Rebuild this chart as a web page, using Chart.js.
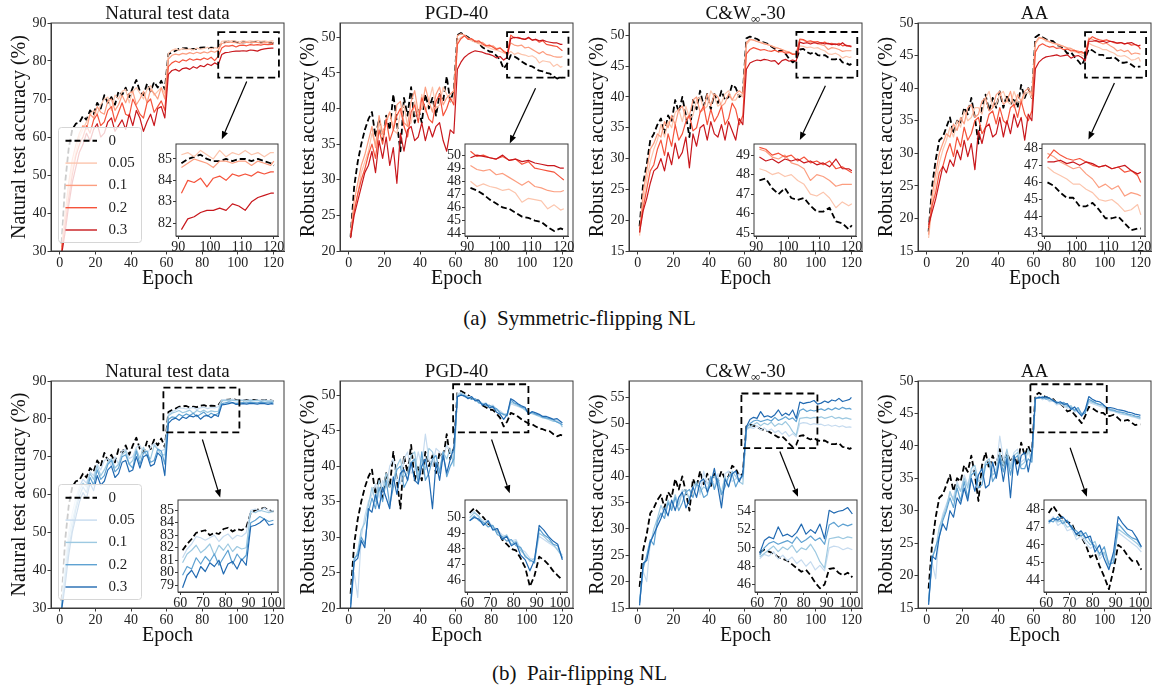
<!DOCTYPE html>
<html>
<head>
<meta charset="utf-8">
<title>Accuracy vs epoch under label noise</title>
<script src="https://cdn.jsdelivr.net/npm/chart.js@4.4.1/dist/chart.umd.min.js"></script>
<style>
  html, body { margin: 0; padding: 0; background: #fff; }
  #fig { position: relative; width: 1159px; height: 692px; overflow: hidden; background: #fff; }
  #fig canvas { position: absolute; }
  .caption { position: absolute; left: 0; width: 1159px; text-align: center;
             font-family: "Liberation Serif", "Times New Roman", serif; font-size: 21px; line-height: 21px; color: #111; }
</style>
</head>
<body>
<div id="fig">
  <div class="caption" style="top:308px">(a)&nbsp; Symmetric-flipping NL</div>
  <div class="caption" style="top:663px">(b)&nbsp; Pair-flipping NL</div>
</div>
<script>
// ---- data ----------------------------------------------------------------
const epochs = [1,3,5,7,9,11,13,15,17,19, 21,23,25,27,29,31,33,35,37,39, 41,43,45,47,49,51,53,55,57,59,
  61,63,65,67,69,71,73,75,77,79,81,83,85,87,89, 91,93,95,97,99,101,103,105,107,109,111,113,115,117,119,120];
const noiseRates = ['0', '0.05', '0.1', '0.2', '0.3'];

// noise rate 0 (same run in both rows)
const natClean = [32,48,57,62,63.5,63.8,65.5,64.5,67,66, 69,67.5,71,69,70.5,68.5,72,71,73,70.5, 73,75,72,71,74,72,74.5,73,74.8,72.5,
  81.8,82.3,82.7,83.2,83.3,83.4,83.0,83.2,83.1,83.5,83.6,83.3,83.5,83.4,83.6,
  84.8,85.0,85.1,85.2,85.0,84.9,84.9,85.0,84.9,85.0,85.0,84.9,85.0,84.9,84.8,84.7];
const pgdClean = [22,29,32.5,35,37,38.5,39.5,36,38.5,35.5, 39,37,42,38,34,41.5,39,43,38,40, 38,42,40,41.5,39,42,41,44.5,41,42.5,
  50.3,50.6,50.3,50.0,49.6,49.4,49.2,48.6,48.3,48.0,47.9,47.4,46.8,45.6,46.3,
  47.5,47.3,47.0,46.6,46.3,46.0,45.9,45.6,45.3,45.2,45.0,44.9,44.5,44.2,44.4,44.3];
const cwClean = [19,26,29,33,34,35.5,36.5,34,37,36, 39.5,37.5,40,37,33.5,39.5,38,41,38.5,40.5, 38,40.5,39,41,39.5,40,42,41.5,40,40.5,
  49.5,49.8,49.6,49.4,49.0,48.8,48.6,48.2,47.8,47.4,47.6,47.0,46.2,45.6,46.0,
  47.7,47.8,47.3,47.0,47.3,46.8,46.7,46.8,46.4,46.1,46.1,46.3,45.6,45.5,45.2,45.4];
const aaClean = [18,25,29,32,32.5,34,35.5,33,35,34.5, 37,36,38.5,35.5,31.5,37,39,36.5,38.5,37, 39.5,37,39,37.5,38.5,37,40.5,38.5,40,38.5,
  47.8,48.2,47.8,47.5,47.3,47.2,46.6,46.5,46.0,45.3,45.5,44.8,44.2,43.5,44.6,
  46.0,45.8,45.4,45.1,45.1,44.6,44.6,44.8,44.4,43.9,43.9,44.0,43.6,43.2,43.3,43.3];

// symmetric-flipping noise
const natSym05 = [30.5,38,46,52,56,60,62,64,66,67, 66,68.5,70,70.5,67,71,70,72,72.5,69, 72,73,71.5,70,72.5,73.5,71,72,73,71.5,
  82,82.8,83.2,82.8,83.3,83,83.2,82.9,83.4,83.1,83.3,83.6,83.2,83.5,83.3,
  85.2,85.3,85.1,85.4,85.2,85.0,85.4,85.1,85.3,85.2,85.4,85.2,85.3,85.1,85.3,85.3];
const natSym10 = [31,40,48,54,58,61,63,62,66,65, 68,66.5,66,69.5,70,67,68.5,71,69,71.5, 72,68.5,70,72,69,72.5,71.5,70,73,70,
  80.5,81.5,81.8,81.6,82,81.8,82.2,81.9,82.3,82,82.4,82.1,82.6,82.3,82.8,
  84.6,84.8,85.0,84.9,84.8,84.6,84.9,84.9,84.8,84.9,84.9,84.7,84.9,84.8,84.7,84.9];
const natSym20 = [30,37,44,50,55,58,60,63,61,64.5, 66,63,64,67,68,64,66.5,69,66,65.5, 70,68,66,65,69,70,66.5,68,69.5,67,
  78.5,79.5,80,79.6,80.3,80,80.6,80.2,80.5,80.3,80.8,80.4,81,80.1,81.2,
  83.4,84.0,83.9,84.1,83.7,84.1,84.2,84.0,84.3,84.2,84.3,84.2,84.4,84.3,84.4,84.4];
const natSym30 = [29,35,42,48,52,56,58,61,59,62, 63.5,60,61,64,65,61.5,63,64.5,62,66, 63,67,65,61.5,64,66,63,67.5,68,65,
  76.5,77.5,77.8,77.3,78,78.2,77.8,78.5,78.1,78.8,78.5,79.2,78.8,79.5,79.0,
  81.7,82.2,82.3,82.5,82.6,82.6,82.7,82.6,82.9,82.8,82.6,83.0,83.2,83.3,83.4,83.4];

const pgdSym05 = [22,26,28,31,32.5,34,36.5,35,38,36, 38.5,39.5,37,36.5,39.5,40.5,37.5,38,41,39, 42,39.5,41,43,40,40.5,43,42,41,41.5,
  49.5,50,50.2,49.8,49.5,49.3,49.1,48.9,48.7,48.5,48.3,48.2,48,47.8,47.6,
  48.0,47.6,47.8,47.6,47.5,47.3,47.4,47.1,46.4,46.7,46.6,46.5,45.9,46.2,45.8,45.9];
const pgdSym10 = [22.5,27,29.5,32,33.5,35.5,37.5,34.5,39,36.5, 38,39.5,37,40.5,41,38,37.5,41,42.5,39.5, 40,43,41,39.5,42,43,40.5,41.5,42,42.5,
  50.2,50.5,50.3,49.9,49.7,49.5,49.2,49.3,48.9,48.7,48.8,48.4,48.5,48.1,47.8,
  49.2,48.9,48.8,48.9,48.5,48.6,48.3,48.0,47.7,48.0,47.6,47.5,47.3,47.2,47.2,47.3];
const pgdSym20 = [22,25.5,28,30,31.5,33.5,35,33,37,35, 38.5,35.5,37,39,40,37.5,36,39.5,40.5,38, 41.5,40,38.5,38,41,42,39,40,41.5,40.5,
  49,49.8,50.2,49.7,49.8,49.4,49.5,49.1,48.8,48.9,48.6,48.3,48.5,48.0,47.7,
  50.3,49.9,50.0,49.8,49.7,49.9,49.6,49.7,49.3,49.5,49.0,48.9,48.8,48.7,48.3,48.1];
const pgdSym30 = [21.8,25,27,29,31,32,34,31,35.5,33, 36,32,34.5,29.5,36.5,34,37,37.5,35.5,36, 38,35.5,37.5,36,37.5,38,35.5,34,37,36.5,
  45.5,46.5,47.2,47.6,47.9,48.1,48.0,47.9,47.7,47.6,47.4,47.1,47.3,46.8,47.2,
  49.8,50.0,49.9,49.8,49.7,50.0,49.6,49.7,49.5,49.6,49.4,49.3,49.2,49.2,49.0,49.0];

const cwSym05 = [17.5,23,26.5,29.5,31.5,33,35.5,33.5,36,35, 37.5,38,36,38.5,36.5,37,39.5,40,38,38.5, 41,40,38.5,39,40.5,41,39.5,39.5,40.5,40,
  48.5,49.2,49.3,49.0,48.9,48.7,48.5,48.3,48.1,47.9,47.7,47.5,47.3,47.0,46.8,
  48.3,48.2,48.0,48.1,47.9,48.0,47.7,47.5,47.0,46.9,47.1,46.8,46.3,46.6,46.4,46.5];
const cwSym10 = [18,24.5,28,31.5,32.5,34,33.5,36,35,37, 35.5,38,38.5,36.5,37,39.5,40,37.5,38,40.5, 38.5,40.5,40,38.5,39,40.5,39.5,40.5,41,40.5,
  48.8,49.4,49.2,49.0,48.8,48.6,48.5,48.3,48.0,47.9,47.7,47.4,47.3,47.0,46.9,
  49.3,49.2,48.9,48.8,49.0,48.6,48.5,48.3,47.7,48.0,47.9,47.7,47.4,47.5,47.5,47.5];
const cwSym20 = [18.5,22,25,28,29,31.5,33,30.5,34,32, 35.5,33,34,36,37,34.5,35,37.5,38.5,35.5, 38,36,37,38.5,35.5,36.5,39,38,35.5,37,
  47,47.7,48.0,47.8,47.6,47.7,47.5,47.4,47.6,47.3,47.4,47.1,47.2,46.9,47.0,
  49.4,49.3,49.0,49.1,48.9,49.0,48.7,48.9,48.6,48.7,48.5,48.7,48.3,48.4,48.2,48.1];
const cwSym30 = [18,21.5,23.5,26,28,28.5,30,28,31,29, 32.5,30,31,33.5,28.5,34,32,35,35.5,33, 36,34,33.5,35.5,33,36,34.5,33,36.5,35.5,
  44.5,45.5,45.8,46.0,45.9,46.1,46.0,45.8,45.9,45.3,45.9,46.1,45.8,46.0,45.8,
  48.9,48.7,48.8,48.6,48.8,48.7,48.8,48.6,48.7,48.5,48.6,48.4,48.8,48.3,48.3,48.2];

const aaSym05 = [17,22,25.5,28.5,30.5,32,34,32.5,35,34, 36.5,35,35.5,37,37,36,38.5,39.5,37,37.5, 39,39.5,38,37.5,39.5,38,37.5,39,39.5,38.5,
  46.8,47.6,47.7,47.2,47.1,46.9,46.7,46.5,46.4,46.1,45.9,45.6,45.4,45.1,44.8,
  46.9,46.6,46.4,46.2,45.9,45.9,45.6,45.4,45.0,44.9,45.0,44.7,44.3,44.4,44.7,44.1];
const aaSym10 = [17.5,23.5,27,30,31.5,33,32.5,34.5,33.5,35.5, 34.5,37,37.5,35.5,36,38,38.5,36.5,37,39, 39.5,37.5,38,39.5,37,39,38,39.5,40,39,
  47.0,47.8,47.6,47.4,47.1,46.9,46.8,46.6,46.4,46.2,46.1,45.8,45.7,45.4,45.2,
  47.7,47.5,47.2,47.0,46.8,46.9,46.5,46.2,45.7,45.9,45.6,45.8,45.2,45.4,45.3,45.2];
const aaSym20 = [18.5,22,24,27,28,30,31.5,29.5,32.5,31, 34,32,33,35,35.5,33,34,36,36.5,34.5, 37,35,34.5,37,37.5,35.5,38,36,35,36.5,
  45.5,46.5,46.8,46.5,46.3,46.4,46.1,46.2,45.9,46.0,45.7,45.8,45.5,45.6,45.3,
  47.4,47.9,47.6,47.4,47.3,47.4,47.2,47.0,46.9,47.0,46.8,46.9,46.6,46.7,46.4,46.0];
const aaSym30 = [19,21,23,25.5,28,27,29,28,30.5,29, 32,29.5,31.5,27.5,33.5,31.5,34,34.5,32.5,33, 35.5,32.5,35,33,36,34,35.5,32,36,35,
  43,44,44.5,44.8,44.9,45.0,45.1,44.9,45.0,45.1,44.6,44.9,45.0,44.7,44.2,
  47.2,47.2,47.3,47.1,47.2,47.0,47.2,47.1,46.9,47.0,46.8,46.9,47.0,46.7,46.5,46.6];

// pair-flipping noise
const natPair05 = [31,42,50,55,59,62,64,63,66,65, 68,66.5,69,69.5,67.5,70,68,71.5,72,69.5, 70,72.5,73,71,70.5,72.5,73.5,72,71.5,72,
  81.2,81.9,82.3,82.9,82.8,82.6,82.8,83.0,82.5,82.9,83.1,82.7,83.0,82.9,83.2,
  85.0,85.1,84.9,85.2,84.9,85.0,85.0,84.9,85.1,84.8,85.0,84.9,85.0,84.8,84.9,84.7];
const natPair10 = [30.5,40,48,53,57,61,63,62,65.5,64, 67.5,65,66.5,68.5,69.5,67,68,70.5,71.5,68, 69,72,69.5,72.5,70,69.5,73,72,70.5,70.5,
  80.8,81.5,81.8,82.2,81.6,81.9,82.3,81.4,82.2,81.8,82.3,81.7,82.1,81.9,82.0,
  84.9,84.8,85.0,84.9,84.8,84.9,84.8,84.7,84.9,84.8,84.9,84.7,84.8,84.6,84.7,84.6];
const natPair20 = [30,38,46,51,56,59.5,62,60.5,64.5,62.5, 66.5,64,65,68,69,66,67,70,70.5,68, 67,71.5,68,71,71.5,68.5,69,72,71.5,68,
  79.8,80.5,80.3,81.2,80.7,81.3,80.9,81.5,80.6,81.2,81.8,80.7,81.5,81.0,81.4,
  84.0,84.2,84.5,84.3,84.1,84.2,84.3,84.2,84.4,84.3,84.2,84.4,84.3,84.2,84.3,84.2];
const natPair30 = [29.5,36,44,50,54,58,60.5,59,63,61, 65,62.5,63.5,66.5,67.5,64.5,65.5,68.5,69,66, 66.5,70,67,70,70.5,67.5,68,71,70,65,
  78.8,79.8,80.2,79.6,80.5,80.1,80.8,80.5,81.0,79.9,80.7,80.9,80.3,81.1,80.6,
  83.7,83.8,84.0,84.3,83.8,83.9,84.0,83.9,84.1,84.0,83.9,84.1,84.0,83.8,84.0,83.9];

const pgdPair05 = [20,25,21.5,30,33,35,36,37.5,35.5,38, 37,40,41,38,37.5,41,42,39,39.5,42, 40,44.5,41,40,42.5,42,41,43,42,42,
  50.2,50.4,50.0,49.8,49.8,49.4,49.2,48.9,48.8,48.5,48.6,48.0,47.8,47.4,47.3,
  48.8,48.6,48.4,48.2,48.0,47.6,47.5,47.3,47.1,46.9,46.8,46.6,46.4,46.5,46.1,45.8];
const pgdPair10 = [21,26.5,28,31,32,34.5,37,35,38,36.5, 39,37,38,40,41,38.5,39,41.5,42,38.5, 41,39.5,42.5,42,40,39.5,42,41,42.5,40,
  50.0,50.3,50.1,49.6,49.7,49.3,49.1,48.7,48.9,48.3,48.5,47.9,47.6,47.2,47.4,
  49.0,48.8,48.5,48.3,47.9,47.5,47.4,47.2,47.0,46.8,46.7,46.5,46.3,46.3,45.9,45.5];
const pgdPair20 = [20.5,27,27.5,30,29,33.5,35.5,34,37,35, 38,34.5,37,39.5,40,37,38,40.5,41,37.5, 42,38,39,41,41.5,39,42,38.5,40,41,
  49.8,50.1,49.8,49.7,49.4,49.5,48.9,48.8,48.5,48.6,48.2,48.1,47.5,47.3,47.1,
  49.3,48.9,48.7,48.3,48.2,47.4,47.6,47.3,47.2,46.9,46.8,46.7,46.5,46.2,46.0,45.8];
const pgdPair30 = [20,26.5,27,29.5,28.5,34,33.5,36,34,37, 35.5,34,38.5,36,39,39.5,38,40.5,38,37.5, 40,41,38.5,34,40.5,38,41.5,39,41,42.5,
  49.8,50.0,49.9,49.5,49.8,49.2,49.3,48.6,48.8,48.2,48.4,47.6,47.3,46.6,47.3,
  49.5,49.2,48.8,48.5,48.3,47.3,47.7,47.5,47.3,47.0,47.0,46.8,46.6,46.7,46.3,46.1];

const cwPair05 = [16,22,20,27.5,29,31,33,32,35,34, 36,35,37.5,37,36,38,38.5,36.5,41,38.5, 40,38,40.5,35,40.5,41,39,39.5,40.5,39.5,
  48.8,49.3,49.1,49.6,48.8,49.2,48.6,49.0,48.3,48.7,48.0,48.5,47.6,48.1,47.5,
  50.0,50.2,50.1,49.8,50.0,49.8,49.9,49.6,49.8,49.5,49.7,49.4,49.6,49.3,49.4,49.3];
const cwPair10 = [16.5,23,24.5,27,30,32,34.5,33,35.5,34, 36.5,34.5,37,37.5,35.5,38,39,37,38,37.5, 39.5,40,38.5,37,40,38,41,40,39,38.5,
  49.0,49.4,49.8,50.2,49.6,50.1,49.8,50.3,49.5,50.0,49.8,50.4,49.6,48.5,47.8,
  51.0,51.1,51.2,51.0,51.2,51.1,51.3,51.0,51.2,51.4,51.0,51.2,50.9,51.1,50.9,50.8];
const cwPair20 = [16,22.5,25,28,27,31.5,33,32,35,33.5, 36,33.5,35,37,37.5,36,38.5,38,36,36.5, 40,37.5,39.5,36.5,38,40,40.5,38,39.5,40,
  49.2,50.0,50.5,50.7,50.4,50.6,50.8,50.5,51.2,50.6,50.9,51.3,50.8,51.1,50.4,
  52.5,52.8,52.3,52.6,52.4,52.6,52.8,52.5,52.9,52.6,53.0,52.7,53.1,52.8,52.9,52.7];
const cwPair30 = [15.5,23.5,24,27.5,29,30.5,32,34,32.5,35.5, 33.5,36,37,34,35.5,38,36,39,39.5,37, 38.5,41.5,38,34,39.5,38,40.5,41,39,40.5,
  49.4,50.8,51.2,51.0,52.3,51.3,51.5,51.2,51.7,52.6,51.5,52.0,51.6,52.6,51.0,
  54.1,53.8,54.0,54.1,54.4,53.7,53.9,54.3,54.0,54.5,54.3,54.8,54.2,54.4,54.6,55.0];

const aaPair05 = [15.5,22,19.5,27,29.5,31,32.5,32,34.5,33, 35.5,34,36,36.5,34.5,35,37.5,38,36,36.5, 41.5,38,39,37,39,39.5,37.5,38,39,37.5,
  47.3,47.6,47.1,47.3,46.8,46.9,46.3,46.5,46.1,45.8,46.0,45.2,45.5,45.0,45.4,
  46.7,46.5,46.3,46.1,45.9,45.6,45.4,45.3,45.1,44.9,44.8,44.7,44.5,44.4,44.2,44.1];
const aaPair10 = [16,23,24,27.5,29,30.5,33,31.5,34,33, 35,33.5,36.5,37,34.5,35,37.5,38,35.5,36, 39,37,39.5,36.5,38.5,39,37,37.5,39.5,38,
  47.2,47.5,47.3,47.4,47.0,47.1,46.5,46.7,46.3,46.0,46.2,45.4,45.6,44.7,45.3,
  46.9,46.7,46.5,46.3,46.1,45.8,45.5,45.4,45.2,45.1,44.9,44.8,44.6,44.5,44.3,44.2];
const aaPair20 = [16,22.5,24.5,26,28.5,30,32,30.5,33.5,31.5, 34.5,32,35.5,36,33.5,34,37,37.5,34.5,35.5, 38.5,36,38.5,35.5,38,38.5,36.5,36.5,38,37.5,
  47.4,47.3,47.6,47.2,47.4,46.9,46.8,46.5,46.7,46.2,45.9,45.5,45.9,44.9,45.0,
  47.2,46.9,46.6,46.4,46.3,45.9,45.6,45.5,45.3,45.2,45.1,44.9,44.8,44.6,44.5,44.4];
const aaPair30 = [15.5,23,22.5,26,28,27,30,29,32,31, 33.5,31.5,35,33,35.5,36.5,33.5,34,37.5,35, 38,34.5,38,32,38.5,35.5,38.5,39,36,39,
  47.3,47.5,47.4,47.6,47.3,47.0,46.6,46.8,46.4,46.5,45.6,46.0,45.2,44.6,45.6,
  47.6,47.2,46.9,46.8,46.4,45.9,45.9,45.8,45.6,45.5,45.4,45.2,45.1,44.9,44.8,44.7];

// tick labels
const xTicksMain = [0, 20, 40, 60, 80, 100, 120];
const xTicksInsetSym = [90, 100, 110, 120];
const xTicksInsetPair = [60, 70, 80, 90, 100];
const yTicksNat = [30, 40, 50, 60, 70, 80, 90];
const yTicksPgd = [20, 25, 30, 35, 40, 45, 50];
const yTicksCw = [15, 20, 25, 30, 35, 40, 45, 50];
const yTicksCwPair = [15, 20, 25, 30, 35, 40, 45, 50, 55];
const yTicksAa = [15, 20, 25, 30, 35, 40, 45, 50];

// epochs shown in the zoomed insets
const insetEpochsSym = [91, 120];
const insetEpochsPair = [61, 101];

// ---- styles --------------------------------------------------------------
const FONT = '"Liberation Serif", "Times New Roman", serif';
const INK = '#222';
const AXIS = '#3a3a3a';
const reds = ['#fcc5ad', '#fc9e80', '#f5533b', '#c8171c'];
const blues = ['#c6dbef', '#9dc9e1', '#5fa2d2', '#2069b1'];

const titleNat = [['Natural test data']];
const titlePgd = [['PGD-40']];
const titleCw = [['C&W'], ['\u221e', 'sub'], ['-30']];
const titleAa = [['AA']];

// ---- layout: main axes [left, top, width, height], insets likewise -------
const panels = [
  { title: titleNat, ylabel: 'Natural test accuracy (%)', ax: [51, 23, 233, 228], ylim: [30, 90], yticks: yTicksNat,
    series: [natClean, natSym05, natSym10, natSym20, natSym30], colors: reds, legend: true,
    inset: { box: [176, 144, 102, 92], xlim: [89.3, 121.3], ylim: [81.4, 85.7], xticks: xTicksInsetSym, yticks: [82, 83, 84, 85], span: insetEpochsSym },
    zoom: [89, 123.1, 75.6, 87.6], arrow: [105, 74.6, 91, 59.4] },
  { title: titlePgd, ylabel: 'Robust test accuracy (%)', ax: [340, 23, 233, 228], ylim: [20, 52], yticks: yTicksPgd,
    series: [pgdClean, pgdSym05, pgdSym10, pgdSym20, pgdSym30], colors: reds,
    inset: { box: [465, 144, 103, 92], xlim: [89.3, 121.3], ylim: [43.82, 50.85], xticks: xTicksInsetSym, yticks: [44, 45, 46, 47, 48, 49, 50], span: insetEpochsSym },
    zoom: [88.9, 123.4, 44.34, 50.73], arrow: [104.9, 42.85, 90.4, 35.1] },
  { title: titleCw, ylabel: 'Robust test accuracy (%)', ax: [629, 23, 233, 228], ylim: [15, 52], yticks: yTicksCw,
    series: [cwClean, cwSym05, cwSym10, cwSym20, cwSym30], colors: reds,
    inset: { box: [754, 144, 102, 92], xlim: [89.3, 121.3], ylim: [44.85, 49.57], xticks: xTicksInsetSym, yticks: [45, 46, 47, 48, 49], span: insetEpochsSym },
    zoom: [89.1, 123.3, 43.15, 50.54], arrow: [105.4, 41.8, 91, 33] },
  { title: titleAa, ylabel: 'Robust test accuracy (%)', ax: [918, 23, 233, 228], ylim: [15, 50], yticks: yTicksAa,
    series: [aaClean, aaSym05, aaSym10, aaSym20, aaSym30], colors: reds,
    inset: { box: [1042, 144, 103, 92], xlim: [89.3, 121.3], ylim: [42.86, 48.25], xticks: xTicksInsetSym, yticks: [43, 44, 45, 46, 47, 48], span: insetEpochsSym },
    zoom: [88.9, 123.2, 41.6, 48.6], arrow: [105.4, 40.8, 90.8, 32.1] },

  { title: titleNat, ylabel: 'Natural test accuracy (%)', ax: [51, 381, 233, 227], ylim: [30, 90], yticks: yTicksNat,
    series: [natClean, natPair05, natPair10, natPair20, natPair30], colors: blues, legend: true,
    inset: { box: [178, 500, 100, 92], xlim: [59, 103], ylim: [78.46, 85.82], xticks: xTicksInsetPair, yticks: [79, 80, 81, 82, 83, 84, 85], span: insetEpochsPair },
    zoom: [58.2, 100.9, 76.4, 88.26], arrow: [80.1, 74.55, 90.1, 59.2] },
  { title: titlePgd, ylabel: 'Robust test accuracy (%)', ax: [340, 381, 233, 227], ylim: [20, 52], yticks: yTicksPgd,
    series: [pgdClean, pgdPair05, pgdPair10, pgdPair20, pgdPair30], colors: blues,
    inset: { box: [465, 500, 102, 92], xlim: [59, 103], ylim: [45.25, 51.12], xticks: xTicksInsetPair, yticks: [46, 47, 48, 49, 50], span: insetEpochsPair },
    zoom: [58.6, 100.9, 44.75, 51.54], arrow: [80.2, 43.76, 90.4, 36.17] },
  { title: titleCw, ylabel: 'Robust test accuracy (%)', ax: [629, 381, 233, 227], ylim: [15, 58.1], yticks: yTicksCwPair,
    series: [cwClean, cwPair05, cwPair10, cwPair20, cwPair30], colors: blues,
    inset: { box: [755, 500, 102, 92], xlim: [59, 103], ylim: [45.19, 55.23], xticks: xTicksInsetPair, yticks: [46, 48, 50, 52, 54], span: insetEpochsPair },
    zoom: [58.2, 100.9, 45.34, 55.73], arrow: [79.8, 44.7, 90, 36.1] },
  { title: titleAa, ylabel: 'Robust test accuracy (%)', ax: [918, 381, 233, 227], ylim: [15, 50], yticks: yTicksAa,
    series: [aaClean, aaPair05, aaPair10, aaPair20, aaPair30], colors: blues,
    inset: { box: [1044, 500, 102, 92], xlim: [59, 103], ylim: [43.34, 48.54], xticks: xTicksInsetPair, yticks: [44, 45, 46, 47, 48], span: insetEpochsPair },
    zoom: [58.2, 101.1, 42.07, 49.5], arrow: [80.5, 39.7, 89.9, 32.16] }
];

// ---- helpers -------------------------------------------------------------
const fig = document.getElementById('fig');

function addCanvas(w, h) {
  const c = document.createElement('canvas');
  c.width = w; c.height = h;
  c.style.width = w + 'px'; c.style.height = h + 'px';
  fig.appendChild(c);
  return c;
}

// move the canvas so its chart area lands on the wanted page position
function alignArea(chart, left, top) {
  const a = chart.chartArea;
  chart.canvas.style.left = (left - a.left) + 'px';
  chart.canvas.style.top = (top - a.top) + 'px';
}

function buildDatasets(series, colors, tag, span) {
  return series.map((vals, k) => {
    if (vals.length !== epochs.length) throw new Error(tag + ' series ' + k + ' has ' + vals.length + ' values');
    let pts = vals.map((v, i) => ({ x: epochs[i], y: v }));
    if (span) pts = pts.filter(pt => pt.x >= span[0] && pt.x <= span[1]);
    return {
      label: noiseRates[k],
      data: pts,
      borderColor: k === 0 ? '#000' : colors[k - 1],
      borderWidth: k === 0 ? 1.8 : 1.2,
      borderDash: k === 0 ? [6, 3] : [],
      borderJoinStyle: 'round',
      pointRadius: 0,
      tension: 0,
      fill: false,
      clip: 0,
      order: series.length - 1 - k   // later series drawn on top, like matplotlib
    };
  });
}

function tickFont(size) { return { family: FONT, size: size }; }

function axisScale(lim, ticks, fit, extra) {
  return Object.assign({
    type: 'linear', min: lim[0], max: lim[1],
    afterBuildTicks: s => { s.ticks = ticks.map(v => ({ value: v })); },
    afterFit: fit,
    ticks: { font: tickFont(14), color: INK, autoSkip: false, maxRotation: 0, callback: v => String(v) },
    grid: { drawOnChartArea: false, drawTicks: true, tickLength: 3.5, color: AXIS, lineWidth: 1 },
    border: { color: AXIS, width: 1 }
  }, extra || {});
}

const framePlugin = {
  id: 'frame',
  afterDraw(chart) {
    const { ctx, chartArea: a } = chart;
    ctx.save();
    ctx.strokeStyle = AXIS; ctx.lineWidth = 1; ctx.setLineDash([]);
    ctx.strokeRect(a.left, a.top, a.width, a.height);
    ctx.restore();
  }
};

const whiteAreaPlugin = {
  id: 'whiteArea',
  beforeDatasetsDraw(chart) {
    const { ctx, chartArea: a } = chart;
    ctx.save(); ctx.fillStyle = '#fff';
    ctx.fillRect(a.left, a.top, a.width, a.height);
    ctx.restore();
  }
};

function drawArrow(ctx, x0, y0, x1, y1) {
  const ang = Math.atan2(y1 - y0, x1 - x0), hl = 8, hw = 3.2;
  const bx = x1 - hl * Math.cos(ang), by = y1 - hl * Math.sin(ang);
  ctx.beginPath(); ctx.moveTo(x0, y0); ctx.lineTo(bx, by); ctx.stroke();
  ctx.beginPath(); ctx.moveTo(x1, y1);
  ctx.lineTo(bx + hw * Math.sin(ang), by - hw * Math.cos(ang));
  ctx.lineTo(bx - hw * Math.sin(ang), by + hw * Math.cos(ang));
  ctx.closePath(); ctx.fill();
}

function drawLegend(chart) {
  const { ctx, chartArea: a } = chart;
  const w = 83, h = 115, lx = a.left + 7.5, ly = a.bottom - 8.5 - h;
  ctx.save();
  ctx.beginPath();
  if (ctx.roundRect) ctx.roundRect(lx, ly, w, h, 3); else ctx.rect(lx, ly, w, h);
  ctx.fillStyle = 'rgba(255,255,255,0.8)'; ctx.fill();
  ctx.strokeStyle = '#d6d6d6'; ctx.lineWidth = 1; ctx.stroke();
  chart.data.datasets.forEach((ds, i) => {
    const cy = ly + 13.3 + i * 22.3;
    ctx.beginPath();
    ctx.setLineDash(ds.borderDash);
    ctx.strokeStyle = ds.borderColor; ctx.lineWidth = ds.borderWidth + 0.2;
    ctx.moveTo(lx + 7, cy); ctx.lineTo(lx + 38.5, cy); ctx.stroke();
    ctx.setLineDash([]);
    ctx.fillStyle = INK; ctx.font = '15px ' + FONT;
    ctx.textBaseline = 'middle'; ctx.textAlign = 'left';
    ctx.fillText(ds.label, lx + 50, cy);
  });
  ctx.restore();
}

function decorPlugin(p) {
  return {
    id: 'decor',
    afterDatasetsDraw(chart) {
      const { ctx, scales: { x, y } } = chart;
      ctx.save();
      // dashed zoom rectangle
      ctx.strokeStyle = '#000'; ctx.lineWidth = 1.8; ctx.setLineDash([7, 4]);
      const x0 = x.getPixelForValue(p.zoom[0]), x1 = x.getPixelForValue(p.zoom[1]);
      const y0 = y.getPixelForValue(p.zoom[3]), y1 = y.getPixelForValue(p.zoom[2]);
      ctx.strokeRect(x0, y0, x1 - x0, y1 - y0);
      // arrow towards the inset
      ctx.setLineDash([]); ctx.lineWidth = 1.2; ctx.fillStyle = '#000';
      drawArrow(ctx, x.getPixelForValue(p.arrow[0]), y.getPixelForValue(p.arrow[1]),
                x.getPixelForValue(p.arrow[2]), y.getPixelForValue(p.arrow[3]));
      ctx.restore();
      if (p.legend) drawLegend(chart);
    },
    afterDraw(chart) {
      // title, with a subscript part where needed
      const { ctx, chartArea: a } = chart;
      ctx.save();
      ctx.fillStyle = '#111'; ctx.textBaseline = 'alphabetic'; ctx.textAlign = 'left';
      const parts = p.title.map(([t, kind]) => {
        const font = (kind === 'sub' ? 13 : 19) + 'px ' + FONT;
        ctx.font = font;
        return { t, font, dy: kind === 'sub' ? 4 : 0, w: ctx.measureText(t).width };
      });
      const total = parts.reduce((s, q) => s + q.w, 0);
      let cx = (a.left + a.right) / 2 - total / 2;
      const base = a.top - 4.3;
      parts.forEach(q => { ctx.font = q.font; ctx.fillText(q.t, cx, base + q.dy); cx += q.w; });
      ctx.restore();
    }
  };
}

// ---- build all panels ----------------------------------------------------
const YW = 50, XH = 42, TOP = 26, RIGHT = 12;

panels.forEach((p, n) => {
  const [axL, axT, axW, axH] = p.ax;
  const datasets = buildDatasets(p.series, p.colors, 'panel ' + n);

  const mainCanvas = addCanvas(YW + axW + RIGHT, TOP + axH + XH);
  const main = new Chart(mainCanvas, {
    type: 'line',
    data: { datasets },
    options: {
      responsive: false, maintainAspectRatio: false, animation: false, events: [],
      layout: { padding: { top: TOP, right: RIGHT, left: 0, bottom: 0 } },
      plugins: { legend: { display: false }, tooltip: { enabled: false }, title: { display: false } },
      scales: {
        x: axisScale([-4.95, 125.95], xTicksMain, s => { s.height = XH; }, {
          title: { display: true, text: 'Epoch', color: '#111', font: { family: FONT, size: 20 }, padding: { top: 0, bottom: 2.5 } }
        }),
        y: axisScale(p.ylim, p.yticks, s => { s.width = YW; }, {
          title: { display: true, text: p.ylabel, color: '#111', font: { family: FONT, size: 20 }, padding: { top: 6.8, bottom: 0 } }
        })
      }
    },
    plugins: [framePlugin, decorPlugin(p)]
  });
  main.options.scales.x.ticks.padding = 0;
  main.options.scales.y.ticks.padding = 1;
  main.update('none');
  alignArea(main, axL, axT);

  // inset (same series, zoomed axes)
  const ins = p.inset;
  const [bL, bT, bW, bH] = ins.box;
  const insetCanvas = addCanvas(26 + bW + 12, 10 + bH + 20);
  const insetSets = buildDatasets(p.series, p.colors, 'inset ' + n, ins.span);
  const inset = new Chart(insetCanvas, {
    type: 'line',
    data: { datasets: insetSets },
    options: {
      responsive: false, maintainAspectRatio: false, animation: false, events: [],
      layout: { padding: { top: 10, right: 12, left: 0, bottom: 0 } },
      plugins: { legend: { display: false }, tooltip: { enabled: false } },
      scales: {
        x: axisScale(ins.xlim, ins.xticks, s => { s.height = 20; }),
        y: axisScale(ins.ylim, ins.yticks, s => { s.width = 26; })
      }
    },
    plugins: [whiteAreaPlugin, framePlugin]
  });
  inset.options.scales.x.ticks.padding = 0;
  inset.options.scales.y.ticks.padding = 1;
  inset.options.scales.x.grid.tickLength = 3;
  inset.options.scales.y.grid.tickLength = 3;
  inset.update('none');
  alignArea(inset, bL, bT);
});
</script>
</body>
</html>
